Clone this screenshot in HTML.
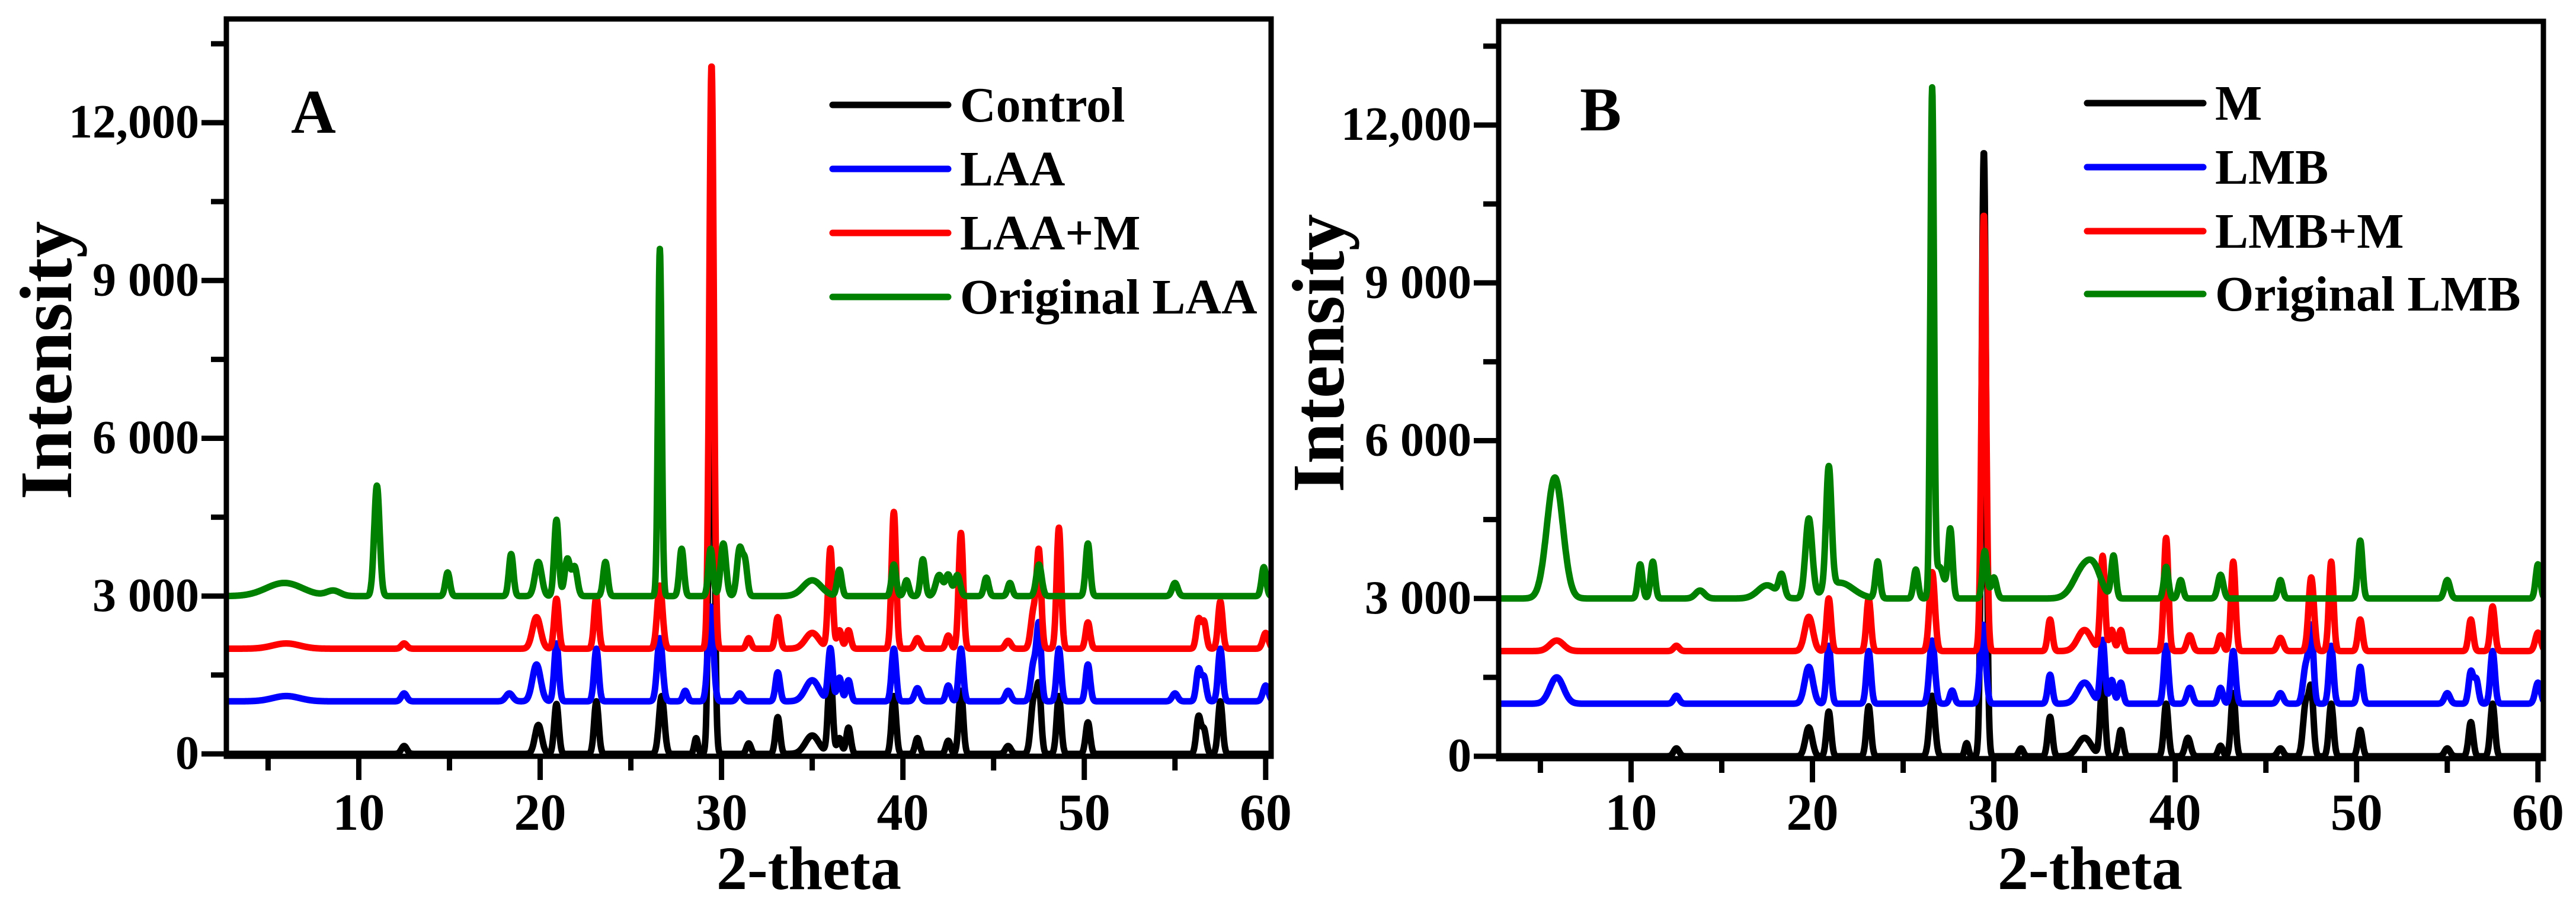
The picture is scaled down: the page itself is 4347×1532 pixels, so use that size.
<!DOCTYPE html>
<html><head><meta charset="utf-8"><style>
html,body{margin:0;padding:0;background:#fff;}
svg{display:block;}
text{font-family:"Liberation Serif",serif;font-weight:bold;fill:#000;}
</style></head>
<body>
<svg id="chart" width="4347" height="1532" viewBox="0 0 4347 1532" xmlns="http://www.w3.org/2000/svg">
<rect width="4347" height="1532" fill="#fff"/>
</svg>
<script>
// ---- shared axis data ----
const xMajorTicks = [10, 20, 30, 40, 50, 60];
const xMinorTicks = [5, 15, 25, 35, 45, 55];
const yMajorTicks = [0, 3000, 6000, 9000, 12000];
const yTickLabels = ["0", "3 000", "6 000", "9 000", "12,000"];
const yMinorTicks = [1500, 4500, 7500, 10500, 13500];
const xDomain = [2.7, 60.3];

// ---- Panel A series (peak positions, heights above baseline, widths) ----
const aNames = ["Control", "LAA", "LAA+M", "Original LAA"];
const aOffsets = [0, 1000, 2000, 3000];
const aControlPos = [12.5, 19.9, 20.9, 23.1, 26.7, 28.6, 29.45, 31.5, 33.1, 35.0, 36.0, 36.5, 37.0, 39.5, 40.8, 42.5, 43.2, 45.8, 47.2, 47.5, 48.6, 50.2, 56.3, 56.6, 57.5];
const aControlHt  = [150, 550, 950, 1000, 1100, 300, 11600, 200, 700, 350, 1600, 300, 500, 1100, 300, 250, 1200, 150, 1000, 1200, 1100, 600, 700, 450, 1000];
const aControlW   = [0.12, 0.15, 0.1, 0.1, 0.12, 0.08, 0.1, 0.1, 0.1, 0.3, 0.1, 0.1, 0.1, 0.1, 0.1, 0.1, 0.1, 0.12, 0.12, 0.1, 0.1, 0.1, 0.1, 0.1, 0.1];
const aLaaPos = [6.0, 12.5, 18.3, 19.8, 20.9, 23.1, 26.6, 28.0, 29.4, 31.0, 33.1, 35.0, 36.0, 36.5, 37.0, 39.5, 40.8, 42.5, 43.2, 45.8, 47.2, 47.5, 48.6, 50.2, 55.0, 56.3, 56.6, 57.5, 60.0];
const aLaaHt  = [100, 150, 150, 700, 1100, 1000, 1200, 200, 1800, 150, 550, 400, 1000, 450, 400, 1000, 250, 300, 1000, 200, 700, 1400, 1000, 700, 150, 600, 450, 1000, 300];
const aLaaW   = [0.6, 0.12, 0.15, 0.18, 0.1, 0.1, 0.12, 0.1, 0.12, 0.12, 0.1, 0.3, 0.1, 0.1, 0.1, 0.1, 0.12, 0.1, 0.1, 0.12, 0.12, 0.1, 0.1, 0.1, 0.12, 0.1, 0.1, 0.1, 0.12];
const aLaamPos = [6.0, 12.5, 19.8, 20.9, 23.1, 26.6, 29.45, 31.5, 33.1, 35.0, 36.0, 36.5, 37.0, 39.5, 40.8, 42.5, 43.2, 45.8, 47.2, 47.5, 48.6, 50.2, 56.3, 56.6, 57.5, 60.0];
const aLaamHt  = [100, 100, 600, 950, 1000, 1200, 11100, 200, 600, 300, 1900, 350, 350, 2600, 200, 250, 2200, 150, 700, 1800, 2300, 500, 550, 500, 900, 300];
const aLaamW   = [0.6, 0.12, 0.18, 0.1, 0.1, 0.12, 0.1, 0.1, 0.1, 0.3, 0.1, 0.1, 0.1, 0.1, 0.12, 0.1, 0.1, 0.12, 0.12, 0.1, 0.1, 0.1, 0.1, 0.1, 0.1, 0.12];
const aOrigPos = [5.9, 8.6, 11.0, 14.9, 18.4, 19.9, 20.9, 21.5, 21.9, 23.6, 26.6, 27.8, 29.4, 30.1, 31.0, 31.3, 35.0, 36.5, 39.5, 40.2, 41.1, 42.0, 42.5, 43.0, 44.6, 45.9, 47.5, 50.2, 55.0, 59.9];
const aOrigHt  = [250, 100, 2100, 450, 800, 650, 1450, 700, 550, 650, 6600, 900, 900, 1000, 900, 600, 300, 500, 600, 300, 700, 400, 400, 400, 350, 250, 600, 1000, 250, 550];
const aOrigW   = [0.8, 0.3, 0.12, 0.1, 0.1, 0.15, 0.1, 0.12, 0.12, 0.1, 0.08, 0.1, 0.1, 0.12, 0.12, 0.1, 0.4, 0.1, 0.1, 0.1, 0.1, 0.15, 0.12, 0.12, 0.1, 0.1, 0.12, 0.1, 0.12, 0.1];

// ---- Panel B series ----
const bNames = ["M", "LMB", "LMB+M", "Original LMB"];
const bOffsets = [0, 1000, 2000, 3000];
const bMPos = [12.5, 19.8, 20.9, 23.1, 26.6, 28.5, 29.45, 31.5, 33.1, 35.0, 36.0, 37.0, 39.5, 40.7, 42.5, 43.2, 45.8, 47.2, 47.5, 48.6, 50.2, 55.0, 56.3, 57.5];
const bMHt  = [150, 550, 850, 950, 1150, 250, 11500, 150, 750, 350, 1500, 500, 1000, 350, 200, 1200, 150, 1000, 1200, 1000, 500, 150, 650, 1000];
const bMW   = [0.12, 0.15, 0.1, 0.1, 0.12, 0.08, 0.1, 0.1, 0.1, 0.3, 0.1, 0.1, 0.1, 0.12, 0.1, 0.1, 0.12, 0.12, 0.1, 0.1, 0.1, 0.12, 0.1, 0.1];
const bLmbPos = [5.9, 12.5, 19.8, 20.9, 23.1, 26.6, 27.7, 29.4, 33.1, 35.0, 36.0, 36.5, 37.0, 39.5, 40.8, 42.5, 43.2, 45.8, 47.2, 47.5, 48.6, 50.2, 55.0, 56.3, 56.6, 57.5, 60.0];
const bLmbHt  = [500, 150, 700, 1100, 1000, 1200, 250, 1500, 550, 400, 1200, 450, 400, 1100, 300, 300, 1000, 200, 700, 1400, 1100, 700, 200, 600, 450, 1000, 400];
const bLmbW   = [0.3, 0.12, 0.18, 0.1, 0.1, 0.12, 0.1, 0.12, 0.1, 0.3, 0.1, 0.1, 0.1, 0.1, 0.12, 0.1, 0.1, 0.12, 0.12, 0.1, 0.1, 0.1, 0.12, 0.1, 0.1, 0.1, 0.12];
const bLmbmPos = [5.9, 12.5, 19.8, 20.9, 23.1, 26.6, 29.45, 33.1, 35.0, 36.0, 36.5, 37.0, 39.5, 40.8, 42.5, 43.2, 45.8, 47.5, 48.6, 50.2, 56.3, 57.5, 60.0];
const bLmbmHt  = [200, 100, 650, 1000, 1000, 1500, 8300, 600, 400, 1800, 400, 400, 2150, 300, 300, 1700, 250, 1400, 1700, 600, 600, 850, 350];
const bLmbmW   = [0.3, 0.12, 0.18, 0.1, 0.1, 0.12, 0.1, 0.1, 0.3, 0.1, 0.1, 0.1, 0.1, 0.12, 0.1, 0.1, 0.12, 0.12, 0.1, 0.1, 0.1, 0.1, 0.12];
const bOrigPos = [5.8, 10.5, 11.2, 13.8, 17.5, 18.3, 19.8, 20.9, 21.5, 23.6, 25.7, 26.6, 27.0, 27.6, 29.5, 30.0, 35.0, 35.6, 36.6, 39.5, 40.3, 42.5, 45.8, 50.2, 55.0, 60.0];
const bOrigHt  = [2300, 650, 700, 150, 250, 400, 1500, 2300, 300, 700, 550, 9550, 600, 1300, 900, 400, 600, 300, 800, 600, 350, 450, 350, 1100, 350, 650];
const bOrigW   = [0.35, 0.1, 0.1, 0.2, 0.4, 0.12, 0.15, 0.12, 0.6, 0.1, 0.1, 0.08, 0.2, 0.1, 0.1, 0.12, 0.45, 0.3, 0.1, 0.1, 0.1, 0.12, 0.1, 0.1, 0.12, 0.1];

const seriesColors = ["#000000", "#0000ff", "#ff0000", "#008000"];
const peakWidthScale = 1.25;
const NS = "http://www.w3.org/2000/svg";
const svg = document.getElementById("chart");

function mk(tag, attrs, parent) {
  const e = document.createElementNS(NS, tag);
  for (const k in attrs) e.setAttribute(k, attrs[k]);
  (parent || svg).appendChild(e);
  return e;
}

function drawPanel(cfg) {
  const L = cfg.left, R = cfg.right, T = cfg.top, B = cfg.bottom, y0 = cfg.y0, y12 = cfg.y12;
  const xs = v => L + (v - xDomain[0]) / (xDomain[1] - xDomain[0]) * (R - L);
  const ys = v => y0 - v / 12000 * (y0 - y12);

  const g = mk("g", {});
  
  

  const clip = mk("clipPath", { id: cfg.id + "-clip" }, g);
  mk("rect", { x: L, y: T, width: R - L, height: B - T }, clip);

  const lg = mk("g", { "clip-path": "url(#" + cfg.id + "-clip)" }, g);
  [0, 1, 2, 3].forEach(si => {
    const s = cfg.series[si];
    let d = "";
    for (let x = xDomain[0]; x <= xDomain[1] + 1e-9; x += 0.02) {
      let v = cfg.offsets[si];
      for (let k = 0; k < s.pos.length; k++) {
        const dx = (x - s.pos[k]) / (s.w[k] * peakWidthScale);
        if (Math.abs(dx) < 6) v += s.ht[k] * Math.exp(-0.5 * dx * dx);
      }
      d += (d ? "L" : "M") + xs(x).toFixed(1) + "," + ys(v).toFixed(1);
    }
    const p = mk("path", { d: d, fill: "none", stroke: seriesColors[si], "stroke-width": 11, "stroke-linejoin": "round" }, lg);
    
    
  });

  const fr = mk("rect", { x: L, y: T, width: R - L, height: B - T, fill: "none", stroke: "#000", "stroke-width": 9 }, g);
  
  

  xMajorTicks.forEach(t => {
    const x = xs(t);
    mk("line", { x1: x, y1: B, x2: x, y2: B + 40, stroke: "#000", "stroke-width": 9 }, g);
    const tx = mk("text", { x: x, y: 1400, "font-size": 88, "text-anchor": "middle" }, g);
    tx.textContent = String(t);
    
    
  });
  xMinorTicks.forEach(t => {
    const x = xs(t);
    mk("line", { x1: x, y1: B, x2: x, y2: B + 24, stroke: "#000", "stroke-width": 9 }, g);
  });
  yMajorTicks.forEach((t, i) => {
    const y = ys(t);
    mk("line", { x1: L - 42, y1: y, x2: L, y2: y, stroke: "#000", "stroke-width": 9 }, g);
    const tx = mk("text", { x: L - 46, y: y + 25, "font-size": 80, "text-anchor": "end" }, g);
    tx.textContent = yTickLabels[i];
    
    
  });
  yMinorTicks.forEach(t => {
    const y = ys(t);
    mk("line", { x1: L - 26, y1: y, x2: L, y2: y, stroke: "#000", "stroke-width": 9 }, g);
  });

  const xt = mk("text", { x: cfg.xTitleX, y: 1500, "font-size": 104, "text-anchor": "middle" }, g);
  xt.textContent = "2-theta";
  
  
  const yt = mk("text", { x: 0, y: 0, "font-size": 125, "text-anchor": "middle", textLength: 470, lengthAdjust: "spacingAndGlyphs", transform: "translate(" + (L - 262) + "," + cfg.yTitleY + ") rotate(-90)" }, g);
  yt.textContent = "Intensity";
  
  

  const pl = mk("text", { x: cfg.letterX, y: cfg.letterY, "font-size": 105 }, g);
  pl.textContent = cfg.letter;
  
  

  cfg.names.forEach((n, i) => {
    const ly = cfg.legendY[i];
    const lg2 = mk("g", {}, g);
    
    
    mk("line", { x1: cfg.legX1, y1: ly, x2: cfg.legX2, y2: ly, stroke: seriesColors[i], "stroke-width": 11, "stroke-linecap": "round" }, lg2);
    const t = mk("text", { x: cfg.legX2 + 20, y: ly + 28, "font-size": 84 }, lg2);
    t.textContent = n;
  });
}

drawPanel({
  id: "panel-a", letter: "A", left: 382, right: 2145, top: 32, bottom: 1276, y0: 1272, y12: 207,
  offsets: aOffsets, names: aNames,
  series: [
    { pos: aControlPos, ht: aControlHt, w: aControlW },
    { pos: aLaaPos, ht: aLaaHt, w: aLaaW },
    { pos: aLaamPos, ht: aLaamHt, w: aLaamW },
    { pos: aOrigPos, ht: aOrigHt, w: aOrigW }
  ],
  xTitleX: 1365, yTitleY: 608, letterX: 491, letterY: 224,
  legX1: 1405, legX2: 1600, legendY: [177, 285, 393, 501]
});
drawPanel({
  id: "panel-b", letter: "B", left: 2529, right: 4292, top: 36, bottom: 1280, y0: 1276, y12: 211,
  offsets: bOffsets, names: bNames,
  series: [
    { pos: bMPos, ht: bMHt, w: bMW },
    { pos: bLmbPos, ht: bLmbHt, w: bLmbW },
    { pos: bLmbmPos, ht: bLmbmHt, w: bLmbmW },
    { pos: bOrigPos, ht: bOrigHt, w: bOrigW }
  ],
  xTitleX: 3527, yTitleY: 596, letterX: 2666, letterY: 220,
  legX1: 3522, legX2: 3718, legendY: [174, 282, 390, 496]
});
</script>
</body></html>
